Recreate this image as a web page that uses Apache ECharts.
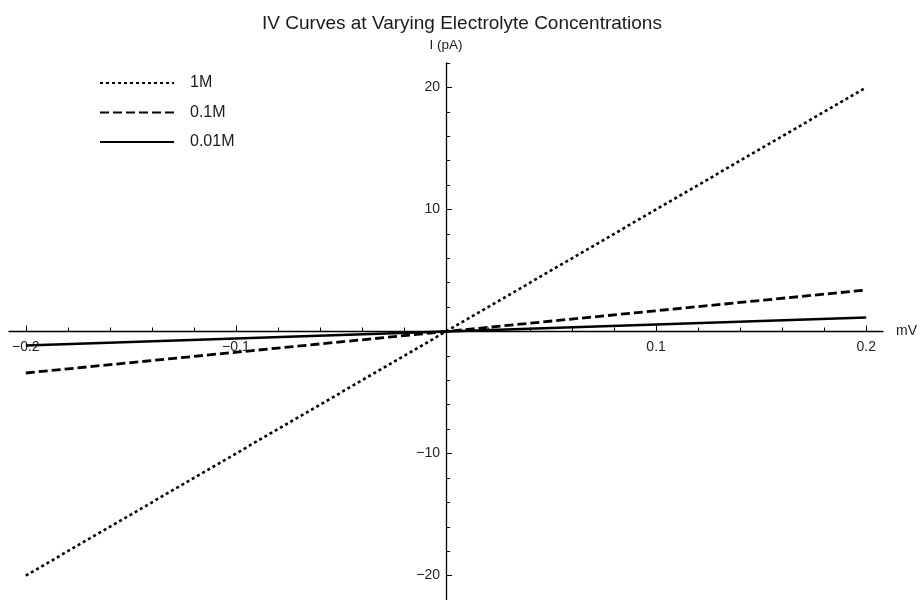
<!DOCTYPE html>
<html>
<head>
<meta charset="utf-8">
<script src="https://cdn.jsdelivr.net/npm/echarts@6/dist/echarts.min.js"></script>
<style>
  html, body { margin: 0; padding: 0; background: #fff; }
  #chart { width: 924px; height: 600px; }
</style>
</head>
<body>
<div id="chart"></div>
<script>
// Applied voltage (mV) and measured current (pA) for each electrolyte concentration
const voltage = [-0.2, 0, 0.2];
const current1M = [-20, 0, 20];
const current01M = [-3.4, 0, 3.4];
const current001M = [-1.15, 0, 1.15];

const seriesNames = ['1M', '0.1M', '0.01M'];

// Tick positions
const xMajorTicks = [-0.2, -0.1, 0.1, 0.2];
const xMinorTicks = [-0.2, -0.18, -0.16, -0.14, -0.12, -0.1, -0.08, -0.06, -0.04, -0.02,
                     0.02, 0.04, 0.06, 0.08, 0.1, 0.12, 0.14, 0.16, 0.18, 0.2];
const yMajorTicks = [-20, -10, 10, 20];
const yMinorTicks = [-22, -20, -18, -16, -14, -12, -10, -8, -6, -4, -2,
                     2, 4, 6, 8, 10, 12, 14, 16, 18, 20, 22];

const X_MIN = -0.208, X_MAX = 0.208;
const Y_MIN = -22, Y_MAX = 22;

// Plot area geometry; the axes are shifted so they cross at the origin
const GRID = { left: 9, right: 41, top: 63, bottom: 0 };
const PLOT_W = 924 - GRID.left - GRID.right;
const PLOT_H = 600 - GRID.top - GRID.bottom;
const X_AXIS_SHIFT = -PLOT_H * (0 - Y_MIN) / (Y_MAX - Y_MIN);
const Y_AXIS_SHIFT = -PLOT_W * (0 - X_MIN) / (X_MAX - X_MIN);

const FONT = 'Liberation Sans, Arial, sans-serif';
const minus = v => String(v).replace('-', '\u2212');
const pairs = ys => voltage.map((x, i) => [x, ys[i]]);

const chart = echarts.init(document.getElementById('chart'), null, { renderer: 'canvas' });

const lineSeries = (name, ys, type, width) => ({
  name: name,
  type: 'line',
  xAxisIndex: 0,
  yAxisIndex: 0,
  data: pairs(ys),
  symbol: 'circle',
  symbolSize: 0,
  showSymbol: false,
  silent: true,
  animation: false,
  lineStyle: { color: '#000', width: width, type: type },
  itemStyle: { color: '#000' }
});

const xAxisBase = {
  type: 'value', min: X_MIN, max: X_MAX,
  position: 'bottom', offset: X_AXIS_SHIFT,
  splitLine: { show: false }
};
const yAxisBase = {
  type: 'value', min: Y_MIN, max: Y_MAX,
  position: 'left', offset: Y_AXIS_SHIFT,
  splitLine: { show: false }
};

chart.setOption({
  backgroundColor: '#fff',
  animation: false,
  title: {
    text: 'IV Curves at Varying Electrolyte Concentrations',
    left: 'center',
    top: 9,
    textStyle: { fontFamily: FONT, fontSize: 19, fontWeight: 'normal', color: '#1a1a1a' }
  },
  legend: {
    orient: 'vertical',
    left: 99,
    top: 75,
    padding: 0,
    itemWidth: 74,
    itemHeight: 14,
    itemGap: 13.5,
    data: seriesNames,
    selectedMode: false,
    itemStyle: { opacity: 0, borderWidth: 0 },
    textStyle: {
      fontFamily: FONT, fontSize: 16, color: '#1a1a1a',
      padding: [0, 0, 0, 11]
    }
  },
  grid: Object.assign({ containLabel: false, outerBoundsMode: 'none' }, GRID),
  xAxis: [
    Object.assign({}, xAxisBase, {
      name: 'mV',
      nameLocation: 'end',
      nameGap: 13,
      nameTextStyle: { fontFamily: FONT, fontSize: 14, color: '#1a1a1a' },
      axisLine: { show: true, onZero: false, lineStyle: { color: '#000', width: 1.3 } },
      axisTick: { show: true, inside: true, length: 6, customValues: xMajorTicks,
                  lineStyle: { color: '#000', width: 1 } },
      axisLabel: { show: true, customValues: xMajorTicks, margin: 9,
                   fontFamily: FONT, fontSize: 14, color: '#222',
                   formatter: v => minus(v) }
    }),
    Object.assign({}, xAxisBase, {
      axisLine: { show: false, onZero: false },
      axisTick: { show: true, inside: true, length: 4, customValues: xMinorTicks,
                  lineStyle: { color: '#000', width: 1 } },
      axisLabel: { show: false }
    })
  ],
  yAxis: [
    Object.assign({}, yAxisBase, {
      name: 'I (pA)',
      nameLocation: 'end',
      nameGap: 11,
      nameTextStyle: { fontFamily: FONT, fontSize: 13.5, color: '#1a1a1a', align: 'center' },
      axisLine: { show: true, onZero: false, lineStyle: { color: '#000', width: 1.3 } },
      axisTick: { show: true, inside: true, length: 6, customValues: yMajorTicks,
                  lineStyle: { color: '#000', width: 1 } },
      axisLabel: { show: true, customValues: yMajorTicks, margin: 6,
                   fontFamily: FONT, fontSize: 14, color: '#222',
                   formatter: v => minus(v) }
    }),
    Object.assign({}, yAxisBase, {
      axisLine: { show: false, onZero: false },
      axisTick: { show: true, inside: true, length: 4, customValues: yMinorTicks,
                  lineStyle: { color: '#000', width: 1 } },
      axisLabel: { show: false }
    })
  ],
  series: [
    lineSeries(seriesNames[0], current1M, [3, 3], 2.6),
    lineSeries(seriesNames[1], current01M, [9, 4], 2.8),
    lineSeries(seriesNames[2], current001M, 'solid', 2.5)
  ]
});
</script>
</body>
</html>
